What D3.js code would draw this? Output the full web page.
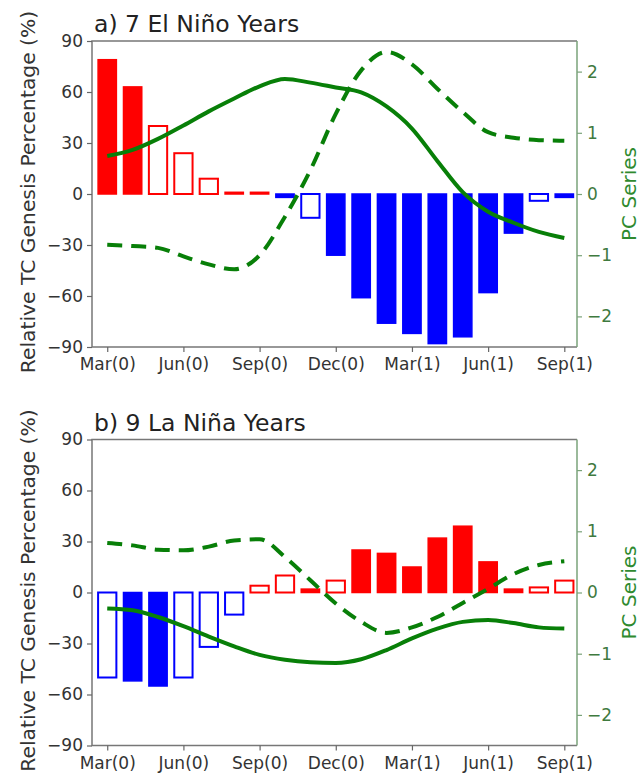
<!DOCTYPE html>
<html>
<head>
<meta charset="utf-8">
<script src="https://cdn.jsdelivr.net/npm/d3@7"></script>
<style>
  body { margin: 0; background: #fff; }
  svg { display: block; }
  text { font-family: "DejaVu Sans", sans-serif; }
</style>
</head>
<body>
<div id="chart"></div>
<script>
// month index 0 = Mar(0) ... 18 = Sep(1)
var tickMonths = [0, 3, 6, 9, 12, 15, 18];
var tickLabels = ["Mar(0)", "Jun(0)", "Sep(0)", "Dec(0)", "Mar(1)", "Jun(1)", "Sep(1)"];
var leftTicks = [-90, -60, -30, 0, 30, 60, 90];
var rightTicks = [-2, -1, 0, 1, 2];

// a) El Nino composite: relative TC genesis (%), 1 = filled bar, 0 = open bar
var ninoBars   = [79, 63, 40, 24, 9, 1, 1, -2, -14, -36, -61, -76, -82, -88, -84, -58, -23, -4, -2];
var ninoFilled = [1, 1, 0, 0, 0, 1, 1, 1, 0, 1, 1, 1, 1, 1, 1, 1, 1, 0, 1];
var ninoPCsolid  = [0.62, 0.72, 0.90, 1.12, 1.35, 1.56, 1.76, 1.88, 1.82, 1.74, 1.66, 1.43, 1.07, 0.54, 0.03, -0.29, -0.47, -0.62, -0.72];
var ninoPCdashed = [-0.83, -0.85, -0.88, -1.02, -1.15, -1.23, -1.0, -0.37, 0.39, 1.31, 2.02, 2.32, 2.12, 1.72, 1.34, 1.01, 0.92, 0.88, 0.87];

// b) La Nina composite
var ninaBars   = [-50, -52, -55, -50, -32, -13, 4, 10, 2, 7, 25, 23, 15, 32, 39, 18, 2, 3, 7];
var ninaFilled = [0, 1, 1, 0, 0, 0, 0, 0, 1, 0, 1, 1, 1, 1, 1, 1, 1, 0, 0];
var ninaPCsolid  = [-0.26, -0.29, -0.40, -0.55, -0.72, -0.88, -1.02, -1.10, -1.14, -1.15, -1.09, -0.94, -0.75, -0.59, -0.48, -0.45, -0.50, -0.57, -0.59];
var ninaPCdashed = [0.81, 0.77, 0.70, 0.69, 0.75, 0.85, 0.87, 0.58, 0.20, -0.18, -0.48, -0.66, -0.57, -0.40, -0.17, 0.06, 0.30, 0.45, 0.51];

const width = 644, height = 778;
const plotLeft = 92, plotRight = 577, plotH = 306;

var svg = d3.select("#chart").append("svg")
    .attr("width", width)
    .attr("height", height);

var green = "#087f08";

function drawPanel(top, title, bars, filled, pcSolid, pcDashed) {
    var g = svg.append("g");

    var x = d3.scaleLinear().domain([-0.6, 18.5]).range([plotLeft, plotRight]);
    var y = d3.scaleLinear().domain([-90, 90]).range([top + plotH, top]);
    var yPC = d3.scaleLinear().domain([-2.5, 2.5]).range([top + plotH, top]);
    var half = 0.36;

    // bars
    g.append("g")
        .selectAll("rect")
        .data(bars)
        .enter()
        .append("rect")
        .attr("x", (d, i) => x(i - half))
        .attr("width", (d, i) => x(i + half) - x(i - half))
        .attr("y", d => y(Math.max(0, d)))
        .attr("height", d => Math.abs(y(d) - y(0)))
        .attr("fill", (d, i) => filled[i] ? (d >= 0 ? "#ff0000" : "#0000ff") : "#fff")
        .attr("stroke", d => d >= 0 ? "#ff0000" : "#0000ff")
        .attr("stroke-width", (d, i) => filled[i] ? 1.5 : 2);

    var line = d3.line()
        .x((d, i) => x(i))
        .y(d => yPC(d))
        .curve(d3.curveMonotoneX);

    g.append("path")
        .datum(pcSolid)
        .attr("d", line)
        .attr("fill", "none")
        .attr("stroke", green)
        .attr("stroke-width", 4);

    g.append("path")
        .datum(pcDashed)
        .attr("d", line)
        .attr("fill", "none")
        .attr("stroke", green)
        .attr("stroke-width", 4)
        .attr("stroke-dasharray", "15,9");

    // frame
    g.append("path")
        .attr("d", `M${plotRight},${top} H${plotLeft} V${top + plotH} H${plotRight}`)
        .attr("fill", "none")
        .attr("stroke", "#777")
        .attr("stroke-width", 1.5);
    g.append("line")
        .attr("x1", plotRight).attr("x2", plotRight)
        .attr("y1", top).attr("y2", top + plotH)
        .attr("stroke", "#7aa37a")
        .attr("stroke-width", 1.5);

    // left axis
    var yAxis = d3.axisLeft(y).tickValues(leftTicks).tickSize(5).tickPadding(4)
        .tickFormat(d => d < 0 ? "\u2212" + Math.abs(d) : d);
    var ya = g.append("g").attr("transform", `translate(${plotLeft},0)`).call(yAxis);
    ya.select(".domain").remove();
    ya.selectAll("line").attr("stroke", "#666").attr("stroke-width", 1.2);
    ya.selectAll("text").attr("font-size", 17).attr("fill", "#333")
        .style("font-family", '"DejaVu Sans", sans-serif');

    // right axis (PC)
    var rAxis = d3.axisRight(yPC).tickValues(rightTicks).tickSize(5).tickPadding(5)
        .tickFormat(d => d < 0 ? "\u2212" + Math.abs(d) : d);
    var ra = g.append("g").attr("transform", `translate(${plotRight},0)`).call(rAxis);
    ra.select(".domain").remove();
    ra.selectAll("line").attr("stroke", "#7aa37a").attr("stroke-width", 1.2);
    ra.selectAll("text").attr("font-size", 17).attr("fill", "#3f7a3f")
        .style("font-family", '"DejaVu Sans", sans-serif');

    // bottom axis
    var xAxis = d3.axisBottom(x).tickValues(tickMonths).tickSize(5).tickPadding(6)
        .tickFormat((d, i) => tickLabels[i]);
    var xa = g.append("g").attr("transform", `translate(0,${top + plotH})`).call(xAxis);
    xa.select(".domain").remove();
    xa.selectAll("line").attr("stroke", "#666").attr("stroke-width", 1.2);
    xa.selectAll("text").attr("font-size", 17).attr("fill", "#333")
        .style("font-family", '"DejaVu Sans", sans-serif');

    // titles
    g.append("text")
        .attr("x", plotLeft + 2)
        .attr("y", top - 9)
        .attr("font-size", 23.5)
        .attr("fill", "#222")
        .text(title);

    g.append("text")
        .attr("transform", `translate(35,${top + plotH / 2 - 2}) rotate(-90)`)
        .attr("text-anchor", "middle")
        .attr("font-size", 20.3)
        .attr("fill", "#333")
        .text("Relative TC Genesis Percentage (%)");

    g.append("text")
        .attr("transform", `translate(636,${top + plotH / 2}) rotate(-90)`)
        .attr("text-anchor", "middle")
        .attr("font-size", 20)
        .attr("fill", "#2f8a2f")
        .text("PC Series");
}

drawPanel(41, "a) 7 El Ni\u00f1o Years", ninoBars, ninoFilled, ninoPCsolid, ninoPCdashed);
drawPanel(439.5, "b) 9 La Ni\u00f1a Years", ninaBars, ninaFilled, ninaPCsolid, ninaPCdashed);
</script>
</body>
</html>
